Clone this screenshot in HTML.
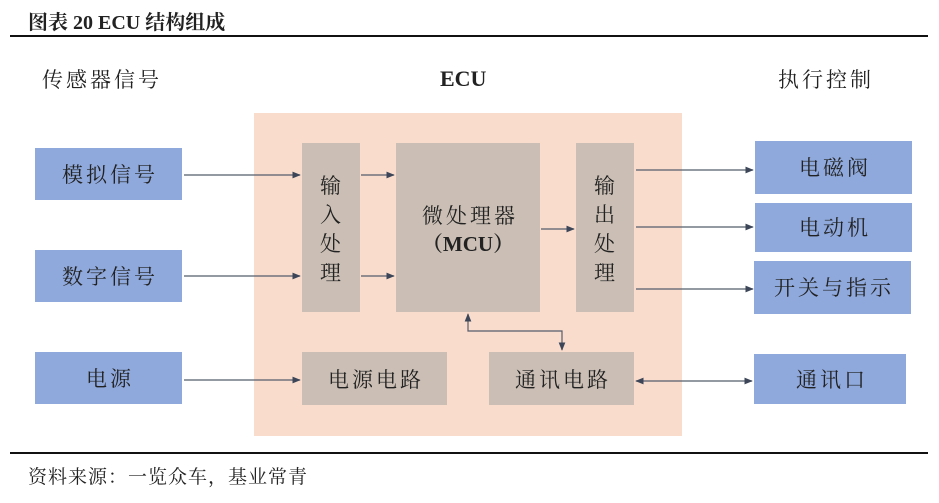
<!DOCTYPE html>
<html><head><meta charset="utf-8"><style>
html,body{margin:0;padding:0;background:#fff;width:939px;height:503px;overflow:hidden}
svg text{font-family:"Liberation Serif","Noto Serif CJK SC","WenQuanYi Zen Hei",serif;fill:#222}
</style></head><body>
<svg width="939" height="503" viewBox="0 0 939 503" xmlns="http://www.w3.org/2000/svg">
<defs><marker id="a" viewBox="0 0 10 10" refX="9" refY="5" markerWidth="7" markerHeight="7" orient="auto-start-reverse"><path d="M0,1 L10,5 L0,9 z" fill="#3c4658"/></marker></defs>
<text x="28" y="29" font-size="20" font-weight="bold" fill="#111">图表 20 ECU 结构组成</text>
<line x1="10" y1="36" x2="928" y2="36" stroke="#111" stroke-width="2"/>
<text x="42" y="87" font-size="21" letter-spacing="3">传感器信号</text>
<text x="440" y="86" font-size="22" font-weight="bold">ECU</text>
<text x="778" y="87" font-size="21" letter-spacing="3">执行控制</text>
<rect x="254" y="113" width="428" height="323" fill="#f9dccc"/>
<g fill="#8fa9dc">
<rect x="35" y="148" width="147" height="52"/><rect x="35" y="250" width="147" height="52"/><rect x="35" y="352" width="147" height="52"/>
<rect x="755" y="141" width="157" height="53"/><rect x="755" y="203" width="157" height="49"/><rect x="754" y="261" width="157" height="53"/><rect x="754" y="354" width="152" height="50"/>
</g>
<g fill="#cbbfb5">
<rect x="302" y="143" width="58" height="169"/><rect x="396" y="143" width="144" height="169"/><rect x="576" y="143" width="58" height="169"/>
<rect x="302" y="352" width="145" height="53"/><rect x="489" y="352" width="145" height="53"/>
</g>
<g font-size="21" text-anchor="middle" letter-spacing="3">
<text x="110" y="182">模拟信号</text><text x="110" y="284">数字信号</text><text x="110" y="386">电源</text>
<text x="835" y="175">电磁阀</text><text x="835" y="235">电动机</text><text x="834" y="295">开关与指示</text><text x="832" y="387">通讯口</text>
<text x="332" y="193">输</text><text x="332" y="222">入</text><text x="332" y="251">处</text><text x="332" y="280">理</text>
<text x="606" y="193">输</text><text x="606" y="222">出</text><text x="606" y="251">处</text><text x="606" y="280">理</text>
<text x="470" y="223">微处理器</text><text x="468" y="251" font-weight="bold" letter-spacing="0">（MCU）</text>
<text x="376" y="387">电源电路</text><text x="563" y="387">通讯电路</text>
</g>
<g stroke="#555d6b" stroke-width="1.2" fill="none">
<line x1="184" y1="175" x2="300" y2="175" marker-end="url(#a)"/>
<line x1="184" y1="276" x2="300" y2="276" marker-end="url(#a)"/>
<line x1="361" y1="175" x2="394" y2="175" marker-end="url(#a)"/>
<line x1="361" y1="276" x2="394" y2="276" marker-end="url(#a)"/>
<line x1="541" y1="229" x2="574" y2="229" marker-end="url(#a)"/>
<line x1="636" y1="170" x2="753" y2="170" marker-end="url(#a)"/>
<line x1="636" y1="227" x2="753" y2="227" marker-end="url(#a)"/>
<line x1="636" y1="289" x2="753" y2="289" marker-end="url(#a)"/>
<line x1="184" y1="380" x2="300" y2="380" marker-end="url(#a)"/>
<line x1="636" y1="381" x2="752" y2="381" marker-start="url(#a)" marker-end="url(#a)"/>
<polyline points="468,314 468,331 562,331 562,350" marker-start="url(#a)" marker-end="url(#a)"/>
</g>
<line x1="10" y1="453" x2="928" y2="453" stroke="#111" stroke-width="2"/>
<text x="28" y="483" font-size="19" letter-spacing="1">资料来源：一览众车，基业常青</text>
</svg>
</body></html>
